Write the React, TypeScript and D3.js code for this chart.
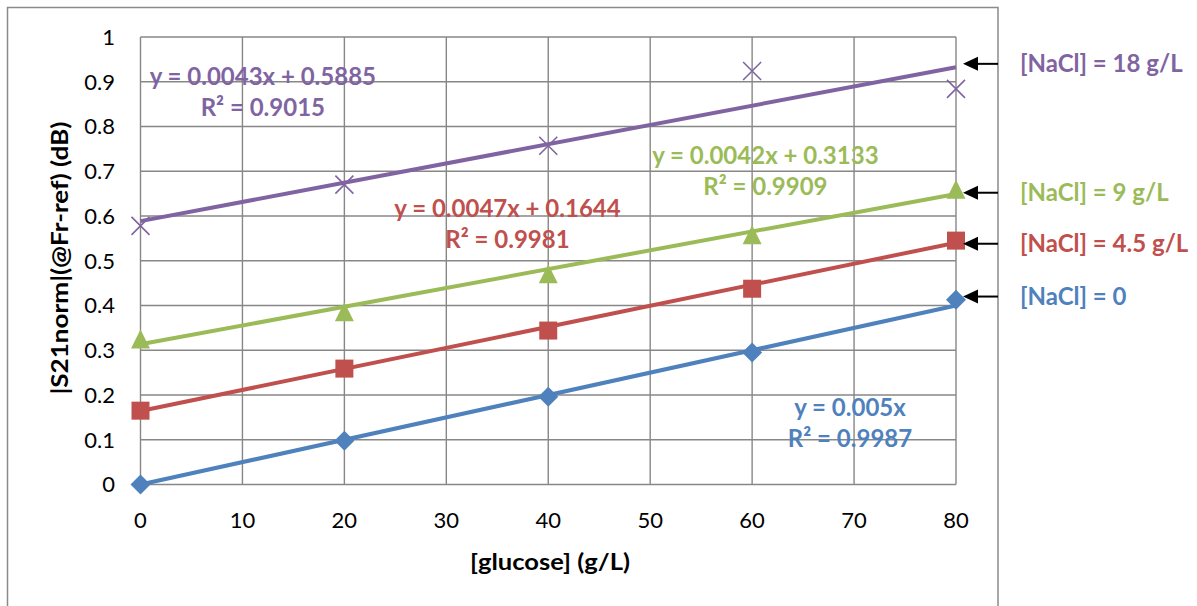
import React from "react";
import * as d3 from "d3";

const glucose = [0, 20, 40, 60, 80];
const nacl0 = [0, 0.098, 0.196, 0.295, 0.413];
const nacl45 = [0.165, 0.259, 0.344, 0.4375, 0.545];
const nacl9 = [0.325, 0.386, 0.471, 0.558, 0.66];
const nacl18 = [0.578, 0.67, 0.757, 0.924, 0.884];

const seriesNames = ["[NaCl] = 0", "[NaCl] = 4.5 g/L", "[NaCl] = 9 g/L", "[NaCl] = 18 g/L"];
const seriesColors = ["#4F81BD", "#C0504D", "#9BBB59", "#8064A2"];
const seriesMarkers = ["diamond", "square", "triangle", "x"];
const slopes = [0.005, 0.0047, 0.0042, 0.0043];
const intercepts = [0, 0.1644, 0.3133, 0.5885];
const eqLabels = ["y = 0.005x", "y = 0.0047x + 0.1644", "y = 0.0042x + 0.3133", "y = 0.0043x + 0.5885"];
const r2Labels = ["R² = 0.9987", "R² = 0.9981", "R² = 0.9909", "R² = 0.9015"];
// label anchor (data coords) for equation labels
const eqAnchorX = [69.6, 36, 61.3, 12];
const eqAnchorY = [0.172, 0.618, 0.735, 0.912];
const arrowAt = [0.42, 0.538, 0.652, 0.94];

const xTicks = [0, 10, 20, 30, 40, 50, 60, 70, 80];
const yTicks = [0, 0.1, 0.2, 0.3, 0.4, 0.5, 0.6, 0.7, 0.8, 0.9, 1];

const allSeries = [nacl0, nacl45, nacl9, nacl18];

const W = 1197;
const H = 606;
const x = d3.scaleLinear().domain([0, 80]).range([140.5, 956]);
const y = d3.scaleLinear().domain([0, 1]).range([484.5, 37]);

const FONT = "Lato, 'Noto Sans', sans-serif";
const GRID = "#878787";

function Marker({ type, cx, cy, color }: { type: string; cx: number; cy: number; color: string }) {
  if (type === "diamond") {
    const r = 10;
    return <path d={`M${cx},${cy - r}L${cx + r},${cy}L${cx},${cy + r}L${cx - r},${cy}Z`} fill={color} />;
  }
  if (type === "square") {
    const r = 9;
    return <rect x={cx - r} y={cy - r} width={2 * r} height={2 * r} fill={color} />;
  }
  if (type === "triangle") {
    const r = 9.5;
    return <path d={`M${cx},${cy - r}L${cx + r},${cy + r}L${cx - r},${cy + r}Z`} fill={color} />;
  }
  const r = 9;
  return (
    <path
      d={`M${cx - r},${cy - r}L${cx + r},${cy + r}M${cx - r},${cy + r}L${cx + r},${cy - r}`}
      stroke={color}
      strokeWidth={1.6}
      fill="none"
    />
  );
}

export default function App() {
  return (
    <svg
      width={W}
      height={H}
      style={{ position: "absolute", left: 0, top: 0, background: "#fff" }}
      fontFamily={FONT}
    >
      <rect x={0} y={0} width={W} height={H} fill="#fff" />
      {/* outer frame */}
      <path d={`M7.5,${H + 5}V7.5H998V${H + 5}`} fill="none" stroke="#8a8a8a" strokeWidth={1.5} />
      {/* gridlines */}
      {yTicks.map((t) => (
        <line key={"gy" + t} x1={x(0)} x2={x(80)} y1={y(t)} y2={y(t)} stroke={GRID} strokeWidth={1.4} />
      ))}
      {xTicks.map((t) => (
        <line key={"gx" + t} x1={x(t)} x2={x(t)} y1={y(0)} y2={y(1)} stroke={GRID} strokeWidth={1.4} />
      ))}
      {/* tick labels */}
      {yTicks.map((t) => (
        <text key={"ty" + t} x={115} y={y(t)} dy="0.36em" textAnchor="end" fontSize={22} fill="#000">
          {d3.format("~g")(t)}
        </text>
      ))}
      {xTicks.map((t) => (
        <text key={"tx" + t} x={x(t)} y={520} dy="0.36em" textAnchor="middle" fontSize={22} fill="#000">
          {t}
        </text>
      ))}
      {/* axis titles */}
      <text
        x={550}
        y={562}
        dy="0.36em"
        textAnchor="middle"
        fontSize={23}
        fontWeight="bold"
        fill="#000"
        textLength={160}
        lengthAdjust="spacingAndGlyphs"
      >
        [glucose] (g/L)
      </text>
      <text
        transform={`translate(60,${258}) rotate(-90)`}
        dy="0.36em"
        textAnchor="middle"
        fontSize={22}
        fontWeight="bold"
        fill="#000"
        textLength={273}
        lengthAdjust="spacingAndGlyphs"
      >
        |S21norm|(@Fr-ref) (dB)
      </text>
      {/* trend lines */}
      {allSeries.map((_, i) => (
        <line
          key={"tl" + i}
          x1={x(0)}
          x2={x(80)}
          y1={y(intercepts[i])}
          y2={y(intercepts[i] + slopes[i] * 80)}
          stroke={seriesColors[i]}
          strokeWidth={4}
          strokeLinecap="butt"
        />
      ))}
      {/* markers */}
      {allSeries.map((s, i) =>
        s.map((v, j) => (
          <Marker key={`m${i}-${j}`} type={seriesMarkers[i]} cx={x(glucose[j])} cy={y(v)} color={seriesColors[i]} />
        ))
      )}
      {/* equation labels */}
      {allSeries.map((_, i) => (
        <g key={"eq" + i} fill={seriesColors[i]} fontWeight="bold" fontSize={24} textAnchor="middle">
          <text x={x(eqAnchorX[i])} y={y(eqAnchorY[i])} dy="0.36em">
            {eqLabels[i]}
          </text>
          <text x={x(eqAnchorX[i])} y={y(eqAnchorY[i]) + 31} dy="0.36em">
            {r2Labels[i]}
          </text>
        </g>
      ))}
      {/* legend arrows */}
      {allSeries.map((_, i) => {
        const ay = y(arrowAt[i]);
        return (
          <g key={"ar" + i}>
            <line x1={976} x2={998} y1={ay} y2={ay} stroke="#000" strokeWidth={2} />
            <path d={`M963,${ay}L978,${ay - 7}L978,${ay + 7}Z`} fill="#000" />
            <text x={1020} y={ay} dy="0.36em" fontSize={24} fontWeight="bold" fill={seriesColors[i]}>
              {seriesNames[i]}
            </text>
          </g>
        );
      })}
    </svg>
  );
}
